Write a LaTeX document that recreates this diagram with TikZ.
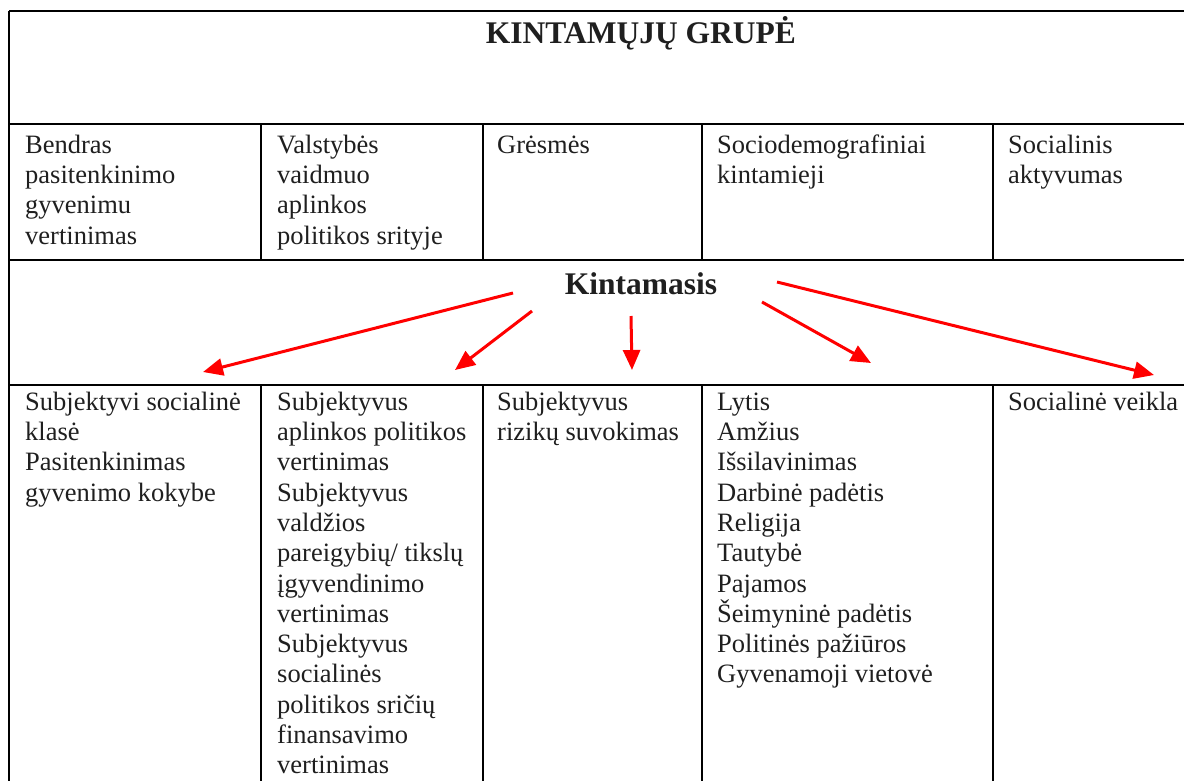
\documentclass[tikz,border=0pt]{standalone}
\usepackage{fontspec}
\setmainfont{Liberation Serif}
\usetikzlibrary{arrows.meta}
\newcommand{\bodyfont}{\fontsize{26.5}{30.3}\selectfont}
\newcommand{\headfont}{\fontsize{31.5}{34}\selectfont\bfseries}
\tikzset{
  rule/.style={line width=2.2pt, black},
  cell/.style={anchor=north west, inner sep=0pt, align=left, font=\bodyfont, text=black!88},
  head/.style={anchor=base, inner sep=0pt, font=\headfont, text=black!88},
  link/.style={draw=red, line width=3pt, -{Triangle[length=20pt,width=17pt]}}
}
\begin{document}
\begin{tikzpicture}[x=1pt,y=-1pt]
\useasboundingbox (0,0) rectangle (1184,780);
% table rules
\draw[rule] (9,11) -- (1190,11);
\draw[rule] (9,11) -- (9,790);
\draw[rule] (9,124) -- (1190,124);
\draw[rule] (9,260) -- (1190,260);
\draw[rule] (9,385) -- (1190,385);
\foreach \x in {261,483,702,993}{
  \draw[rule] (\x,124) -- (\x,260);
  \draw[rule] (\x,385) -- (\x,790);
}
% headings
\node[head] (title) at (641,43) {KINTAMŲJŲ GRUPĖ};
\node[head] (kint) at (641,294) {Kintamasis};
% group row (first baseline 153)
\node[cell] (g1) at (25,131.8) {\strut Bendras\\pasitenkinimo\\gyvenimu\\vertinimas};
\node[cell] (g2) at (277,131.8) {\strut Valstybės\\vaidmuo\\aplinkos\\politikos srityje};
\node[cell] (g3) at (497,131.8) {\strut Grėsmės};
\node[cell] (g4) at (717,131.8) {\strut Sociodemografiniai\\kintamieji};
\node[cell] (g5) at (1008,131.8) {\strut Socialinis\\aktyvumas};
% variables row (first baseline 410)
\node[cell] (v1) at (25,388.8) {\strut Subjektyvi socialinė\\klasė\\Pasitenkinimas\\gyvenimo kokybe};
\node[cell] (v2) at (277,388.8) {\strut Subjektyvus\\aplinkos politikos\\vertinimas\\Subjektyvus\\valdžios\\pareigybių/ tikslų\\įgyvendinimo\\vertinimas\\Subjektyvus\\socialinės\\politikos sričių\\finansavimo\\vertinimas};
\node[cell] (v3) at (497,388.8) {\strut Subjektyvus\\rizikų suvokimas};
\node[cell] (v4) at (717,388.8) {\strut Lytis\\Amžius\\Išsilavinimas\\Darbinė padėtis\\Religija\\Tautybė\\Pajamos\\Šeimyninė padėtis\\Politinės pažiūros\\Gyvenamoji vietovė};
\node[cell] (v5) at (1008,388.8) {\strut Socialinė veikla};
% arrow ends
\coordinate (s1) at (513,293);
\coordinate (e1) at (203,372);
\coordinate (s2) at (532,311);
\coordinate (e2) at (455,370);
\coordinate (s3) at (631,316);
\coordinate (e3) at (632,370);
\coordinate (s4) at (762,302);
\coordinate (e4) at (871,363);
\coordinate (s5) at (777,282);
\coordinate (e5) at (1154,375);
\foreach \i in {1,...,5}{\draw[link] (s\i) -- (e\i);}
\end{tikzpicture}
\end{document}
